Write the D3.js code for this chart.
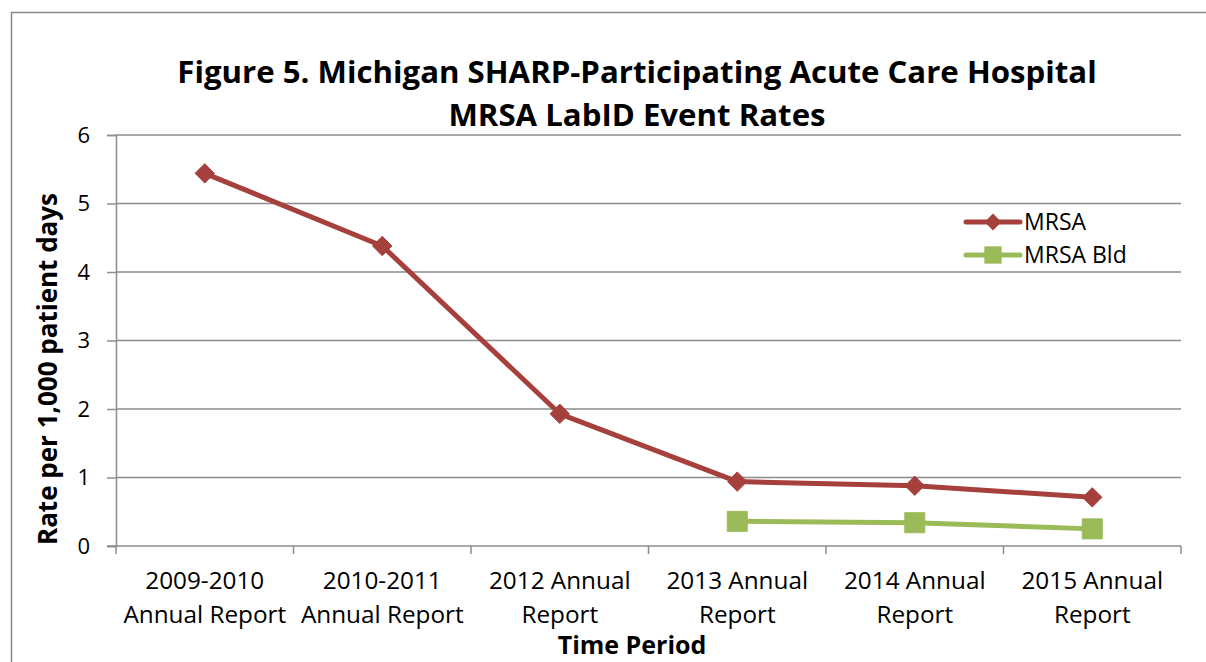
<!DOCTYPE html>
<html>
<head>
<meta charset="utf-8">
<script src="https://cdn.jsdelivr.net/npm/d3@7"></script>
<style>
  body { margin: 0; background: #fff; }
  svg { display: block; }
</style>
</head>
<body>
<div id="chart"></div>
<script>
const categories = [
    ["2009-2010", "Annual Report"],
    ["2010-2011", "Annual Report"],
    ["2012 Annual", "Report"],
    ["2013 Annual", "Report"],
    ["2014 Annual", "Report"],
    ["2015 Annual", "Report"]
];
const mrsa = [5.44, 4.38, 1.93, 0.94, 0.88, 0.71];
const mrsaBld = [null, null, null, 0.36, 0.34, 0.25];
const yTicks = [0, 1, 2, 3, 4, 5, 6];
const titleLines = ["Figure 5. Michigan SHARP-Participating Acute Care Hospital", "MRSA LabID Event Rates"];

const width = 1206, height = 662;
const font = "'Open Sans', sans-serif";
const margin = { left: 116, right: 1181, top: 135, bottom: 546 };

const svg = d3.select("#chart").append("svg")
    .attr("width", width)
    .attr("height", height)
    .style("font-family", font);

// outer chart border
svg.append("rect")
    .attr("x", 11.5).attr("y", 12.5)
    .attr("width", width + 20).attr("height", height + 20)
    .attr("fill", "none")
    .attr("stroke", "#868686")
    .attr("stroke-width", 1.5);

const x = d3.scaleBand()
    .domain(d3.range(categories.length))
    .range([margin.left, margin.right]);

const y = d3.scaleLinear()
    .domain([0, 6])
    .range([margin.bottom, margin.top]);

// gridlines
svg.append("g")
    .selectAll("line")
    .data(yTicks.filter(d => d > 0))
    .join("line")
    .attr("x1", margin.left).attr("x2", margin.right)
    .attr("y1", d => y(d)).attr("y2", d => y(d))
    .attr("stroke", "#8c8c8c")
    .attr("stroke-width", 1.5);

// y axis
const yAxis = svg.append("g")
    .attr("transform", `translate(${margin.left},0)`)
    .call(d3.axisLeft(y).tickValues(yTicks).tickSize(9).tickPadding(17).tickFormat(d3.format("d")));
yAxis.select(".domain").attr("stroke", "#8c8c8c").attr("stroke-width", 1.5);
yAxis.selectAll(".tick line").attr("stroke", "#8c8c8c").attr("stroke-width", 1.5);
yAxis.selectAll(".tick text")
    .attr("font-family", font)
    .attr("font-size", 22)
    .attr("fill", "#000");

// x axis (ticks at band boundaries)
const xAxisG = svg.append("g");
xAxisG.append("line")
    .attr("x1", margin.left - 9).attr("x2", margin.right)
    .attr("y1", margin.bottom).attr("y2", margin.bottom)
    .attr("stroke", "#8c8c8c").attr("stroke-width", 1.5);
const bounds = d3.range(categories.length + 1).map(i => margin.left + i * x.bandwidth());
xAxisG.selectAll("line.tk")
    .data(bounds)
    .join("line")
    .attr("class", "tk")
    .attr("x1", d => d).attr("x2", d => d)
    .attr("y1", margin.bottom).attr("y2", margin.bottom + 8)
    .attr("stroke", "#8c8c8c").attr("stroke-width", 1.5);

const xLabels = xAxisG.selectAll("text.cat")
    .data(categories)
    .join("text")
    .attr("class", "cat")
    .attr("text-anchor", "middle")
    .attr("font-size", 24.3)
    .attr("fill", "#000");
xLabels.each(function (d, i) {
    const t = d3.select(this);
    d.forEach((line, j) => {
        t.append("tspan")
            .attr("x", x(i) + x.bandwidth() / 2)
            .attr("y", 589 + j * 34)
            .text(line);
    });
});

// axis titles
svg.append("text")
    .attr("x", 632).attr("y", 654)
    .attr("text-anchor", "middle")
    .attr("font-size", 25)
    .attr("font-weight", "bold")
    .text("Time Period");

svg.append("text")
    .attr("transform", "translate(57,369) rotate(-90)")
    .attr("text-anchor", "middle")
    .attr("font-size", 26)
    .attr("font-weight", "bold")
    .text("Rate per 1,000 patient days");

// title
svg.append("g")
    .selectAll("text")
    .data(titleLines)
    .join("text")
    .attr("x", 637)
    .attr("y", (d, i) => 83 + i * 43)
    .attr("text-anchor", "middle")
    .attr("font-size", 31.2)
    .attr("font-weight", "bold")
    .text(d => d);

// series
const series = [
    { name: "MRSA", values: mrsa, color: "#A5403D", marker: "diamond" },
    { name: "MRSA Bld", values: mrsaBld, color: "#9BBB59", marker: "square" }
];

const line = d3.line()
    .defined(d => d != null)
    .x((d, i) => x(i) + x.bandwidth() / 2)
    .y(d => y(d));

const diamond = d3.symbol().type(d3.symbolDiamond2).size(240);
const square = d3.symbol().type(d3.symbolSquare).size(400);

series.forEach(s => {
    svg.append("path")
        .datum(s.values)
        .attr("fill", "none")
        .attr("stroke", s.color)
        .attr("stroke-width", 5)
        .attr("stroke-linejoin", "round")
        .attr("d", line);

    svg.append("g")
        .selectAll("path")
        .data(s.values.map((v, i) => ({ v, i })).filter(d => d.v != null))
        .join("path")
        .attr("transform", d => `translate(${x(d.i) + x.bandwidth() / 2},${y(d.v)})`)
        .attr("d", s.marker === "diamond" ? diamond() : square())
        .attr("fill", s.color)
        .attr("stroke", s.color)
        .attr("stroke-width", 1)
        .attr("stroke-linejoin", "round");
});

// legend
const legend = svg.append("g");
series.forEach((s, i) => {
    const ly = 222 + i * 33;
    legend.append("line")
        .attr("x1", 966).attr("x2", 1020)
        .attr("y1", ly).attr("y2", ly)
        .attr("stroke", s.color)
        .attr("stroke-width", 5)
        .attr("stroke-linecap", "round");
    legend.append("path")
        .attr("transform", `translate(993,${ly})`)
        .attr("d", s.marker === "diamond" ? d3.symbol().type(d3.symbolDiamond2).size(180)() : d3.symbol().type(d3.symbolSquare).size(300)())
        .attr("fill", s.color);
    legend.append("text")
        .attr("x", 1024).attr("y", ly + 8)
        .attr("font-size", 23)
        .text(s.name);
});
</script>
</body>
</html>
